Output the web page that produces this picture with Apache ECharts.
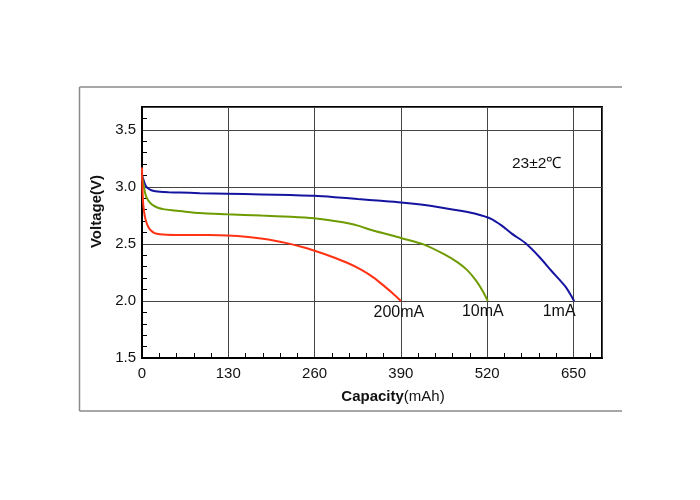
<!DOCTYPE html>
<html>
<head>
<meta charset="utf-8">
<script src="https://cdn.jsdelivr.net/npm/echarts@6/dist/echarts.min.js"></script>
<style>html,body{margin:0;padding:0;background:#fff}#c{width:700px;height:500px}</style>
</head>
<body>
<div id="c"></div>
<script>
var seriesNames = ['1mA', '10mA', '200mA'];
var xTicks = [0, 130, 260, 390, 520, 650];
var yTicks = [1.5, 2.0, 2.5, 3.0, 3.5];
var tempLabel = '23±2℃';

var blue1mA = [[0,3.1],[2,3.067],[4,3.03],[6.6,3.0],[10,2.983],[14,2.97],[20,2.962],[27,2.957],[40,2.953],[57,2.95],[87,2.945],[128,2.94],[180,2.934],[224,2.928],[260,2.922],[290,2.91],[325,2.893],[360,2.878],[390,2.864],[420,2.845],[450,2.82],[480,2.79],[505,2.76],[526,2.72],[542,2.66],[557,2.59],[577,2.51],[598,2.39],[618,2.256],[638,2.125],[651,2.0]];
var green10mA = [[0,3.1],[1.2,3.05],[2.6,3.01],[4.5,2.95],[6.6,2.91],[9,2.885],[11.6,2.864],[15,2.845],[19,2.83],[25,2.815],[32,2.805],[45,2.795],[57,2.788],[87,2.77],[128,2.76],[180,2.748],[224,2.738],[260,2.724],[290,2.70],[314,2.676],[325,2.66],[349,2.616],[370,2.585],[390,2.552],[425,2.494],[455,2.41],[475,2.34],[490,2.27],[503,2.18],[513,2.09],[521,2.0]];
var red200mA = [[0,3.17],[0.6,3.0],[1.6,2.87],[2.6,2.805],[4.5,2.735],[6.6,2.69],[9,2.655],[11.6,2.63],[15,2.61],[19,2.595],[27,2.585],[37,2.58],[60,2.578],[100,2.577],[128,2.573],[160,2.56],[182,2.545],[200,2.528],[218,2.507],[240,2.475],[260,2.44],[285,2.39],[309,2.335],[330,2.275],[349,2.205],[365,2.13],[378,2.065],[390,2.0]];

var font = "'Liberation Sans', Arial, sans-serif";
var chart = echarts.init(document.getElementById('c'));

function mkSeries(name, data, color, off) {
  return {
    name: name, type: 'line', data: data, showSymbol: false, smooth: 0.25,
    lineStyle: { color: color, width: 2 },
    itemStyle: { color: color },
    endLabel: { show: true, formatter: name, align: 'center', verticalAlign: 'top',
      distance: 0, offset: off, color: '#111', fontFamily: font, fontSize: 16 },
    animation: false, silent: true
  };
}

chart.setOption({
  animation: false,
  backgroundColor: '#fff',
  grid: { left: 142, top: 107, right: 98, bottom: 142, show: true, borderColor: '#000', borderWidth: 2, backgroundColor: 'transparent' },
  graphic: [
    { type: 'line', shape: { x1: 79.5, y1: 87, x2: 622, y2: 87 }, style: { stroke: '#8a8a8a', lineWidth: 1.5 } },
    { type: 'line', shape: { x1: 79.5, y1: 411, x2: 622, y2: 411 }, style: { stroke: '#8a8a8a', lineWidth: 1.5 } },
    { type: 'line', shape: { x1: 79.5, y1: 87, x2: 79.5, y2: 411 }, style: { stroke: '#8a8a8a', lineWidth: 1.5 } },
    { type: 'text', left: 512, top: 156, style: { text: tempLabel, font: "15.5px " + font, fill: '#111' } }
  ],
  xAxis: {
    type: 'value', min: 0, max: 693, interval: 130,
    name: '{b|Capacity}{n|(mAh)}', nameLocation: 'middle', nameGap: 31,
    nameTextStyle: { padding: [0, 0, 0, 42], rich: {
      b: { fontWeight: 'bold', fontSize: 15, fontFamily: font, color: '#111' },
      n: { fontSize: 15, fontFamily: font, color: '#111' } } },
    axisLine: { show: true, lineStyle: { color: '#000', width: 2 } },
    axisTick: { show: false, inside: true },
    minorTick: { show: true, splitNumber: 5, length: 5, lineStyle: { color: '#000', width: 1 } },
    axisLabel: { showMaxLabel: false, color: '#111', fontFamily: font, fontSize: 15, margin: 8,
      formatter: function (v) { return xTicks.indexOf(v) >= 0 ? String(v) : ''; } },
    splitLine: { show: true, lineStyle: { color: '#444', width: 1 } }
  },
  yAxis: {
    type: 'value', min: 1.5, max: 3.7, interval: 0.5,
    name: 'Voltage(V)', nameLocation: 'middle', nameGap: 32, nameRotate: 90,
    nameTextStyle: { fontWeight: 'bold', fontSize: 15, fontFamily: font, color: '#111', padding: [0, 0, 0, 42] },
    axisLine: { show: true, lineStyle: { color: '#000', width: 2 } },
    axisTick: { show: false, inside: true },
    minorTick: { show: true, splitNumber: 5, length: 5, lineStyle: { color: '#000', width: 1 } },
    axisLabel: { showMaxLabel: false, color: '#111', fontFamily: font, fontSize: 15, margin: 6,
      formatter: function (v) { var i = yTicks.indexOf(Math.round(v * 10) / 10); return i >= 0 ? yTicks[i].toFixed(1) : ''; } },
    splitLine: { show: true, lineStyle: { color: '#444', width: 1 } }
  },
  series: [
    mkSeries(seriesNames[0], blue1mA, '#1414a0', [-15, 3]),
    mkSeries(seriesNames[1], green10mA, '#6e9c00', [-5, 3]),
    mkSeries(seriesNames[2], red200mA, '#ff3314', [-2, 4])
  ]
});
</script>
</body>
</html>
